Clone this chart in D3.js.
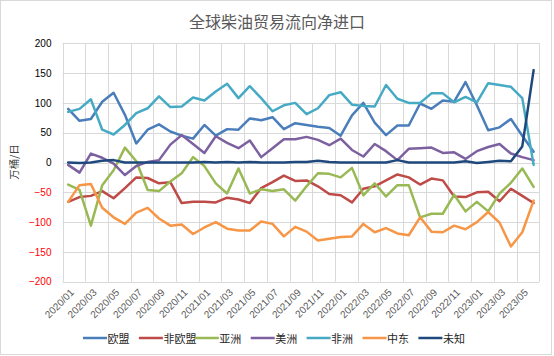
<!DOCTYPE html>
<html>
<head>
<meta charset="utf-8">
<script src="https://cdn.jsdelivr.net/npm/d3@7"></script>
<style>
  html, body { margin: 0; padding: 0; background: #ffffff; }
  svg { display: block; }
</style>
</head>
<body>
<svg id="chart" width="554" height="356"></svg>
<script>
const title = "全球柴油贸易流向净进口";
const yTitle = "万桶/日";
const categories = [
  "2020/01","2020/02","2020/03","2020/04","2020/05","2020/06","2020/07","2020/08","2020/09","2020/10","2020/11","2020/12",
  "2021/01","2021/02","2021/03","2021/04","2021/05","2021/06","2021/07","2021/08","2021/09","2021/10","2021/11","2021/12",
  "2022/01","2022/02","2022/03","2022/04","2022/05","2022/06","2022/07","2022/08","2022/09","2022/10","2022/11","2022/12",
  "2023/01","2023/02","2023/03","2023/04","2023/05","2023/06"
];
const yTicks = [200, 150, 100, 50, 0, -50, -100, -150, -200];

const seriesNames = ["欧盟", "非欧盟", "亚洲", "美洲", "非洲", "中东", "未知"];
const seriesColors = ["#4a7ebb", "#be4b48", "#98b954", "#7d60a0", "#46aac5", "#f79646", "#1f497d"];

const euValues = [90,70,73,102,117,80,32,55,64,52,45,40,63,45,56,55,74,71,76,56,66,63,60,58,45,79,100,67,46,62,62,99,90,104,102,135,96,54,59,73,45,18];
const nonEuValues = [-66,-58,-56,-48,-60,-43,-25,-26,-35,-33,-68,-66,-66,-67,-59,-62,-68,-43,-33,-22,-31,-30,-40,-53,-55,-67,-44,-40,-30,-20,-25,-37,-27,-30,-57,-58,-50,-49,-65,-44,-56,-68];
const asiaValues = [-37,-46,-106,-38,-13,25,2,-46,-48,-32,-18,9,-6,-35,-52,-10,-52,-45,-48,-45,-64,-40,-18,-19,-25,-9,-55,-35,-57,-38,-38,-92,-86,-86,-54,-82,-66,-82,-52,-34,-10,-41];
const americasValues = [-4,-17,15,8,-2,-21,-6,1,4,30,46,31,16,44,33,24,37,9,24,39,39,43,38,29,40,21,10,31,19,4,23,24,25,16,17,6,19,26,31,15,9,4];
const africaValues = [85,90,106,55,47,63,83,91,111,93,94,109,104,119,132,108,128,108,86,96,100,81,91,113,118,97,95,94,130,107,100,100,116,116,101,110,101,133,130,127,108,-4];
const middleEastValues = [-66,-38,-36,-76,-92,-103,-84,-76,-94,-106,-104,-120,-109,-100,-111,-114,-114,-99,-103,-124,-108,-116,-131,-128,-125,-124,-103,-117,-110,-119,-122,-92,-116,-117,-106,-112,-100,-83,-101,-141,-117,-64];
const unknownValues = [0,-1,0,3,4,0,0,0,0,0,0,0,1,0,1,0,1,0,0,0,1,1,3,1,0,0,0,0,0,4,0,0,0,0,0,2,-1,1,3,2,27,155];

const seriesValues = [euValues, nonEuValues, asiaValues, americasValues, africaValues, middleEastValues, unknownValues];

const W = 554, H = 356;
const plot = { left: 62.5, right: 539.3, top: 43.3, bottom: 281.7 };
const svg = d3.select("#chart");

// outer border
svg.append("rect")
  .attr("x", 0.5).attr("y", 0.5).attr("width", 551).attr("height", 354)
  .attr("fill", "#fff").attr("stroke", "#d9d9d9").attr("stroke-width", 1);

const x = d3.scaleBand().domain(categories).range([plot.left, plot.right]).paddingInner(0).paddingOuter(0);
const y = d3.scaleLinear().domain([-200, 200]).range([plot.bottom, plot.top]);
const cx = c => x(c) + x.bandwidth() / 2;

// horizontal gridlines
svg.append("g").selectAll("line").data(yTicks).join("line")
  .attr("x1", plot.left).attr("x2", plot.right)
  .attr("y1", d => Math.round(y(d)) + 0.5).attr("y2", d => Math.round(y(d)) + 0.5)
  .attr("stroke", "#d9d9d9").attr("stroke-width", 1);

// vertical gridlines every 2 categories
const vLines = categories.filter((c, i) => i % 2 === 0).map(c => x(c)).concat([plot.right]);
svg.append("g").selectAll("line").data(vLines).join("line")
  .attr("x1", d => Math.round(d) + 0.5).attr("x2", d => Math.round(d) + 0.5)
  .attr("y1", plot.top).attr("y2", plot.bottom)
  .attr("stroke", "#d9d9d9").attr("stroke-width", 1);

// y axis labels
const yAxis = d3.axisLeft(y).tickValues(yTicks).tickSize(0).tickPadding(0).tickFormat(d3.format("d"));
const yG = svg.append("g").attr("transform", `translate(${51.5},0)`).call(yAxis);
yG.select(".domain").remove();
yG.selectAll("text")
  .attr("font-family", "Liberation Sans, Arial, sans-serif")
  .attr("font-size", 10)
  .attr("fill", d => d < 0 ? "#ff0000" : "#000000");

// x axis labels
const xAxis = d3.axisBottom(x).tickValues(categories.filter((c, i) => i % 2 === 0)).tickSize(0).tickPadding(0);
const xG = svg.append("g").attr("transform", `translate(0,${plot.bottom})`).call(xAxis);
xG.select(".domain").remove();
xG.selectAll("text")
  .attr("font-family", "Liberation Sans, Arial, sans-serif")
  .attr("font-size", 10)
  .attr("fill", "#595959")
  .attr("text-anchor", "end")
  .attr("dy", "0.35em")
  .attr("transform", "translate(4,9) rotate(-45)");

// lines
const line = d3.line().x((d, i) => cx(categories[i])).y(d => y(d));
svg.append("g").selectAll("path").data(seriesValues).join("path")
  .attr("d", d => line(d))
  .attr("fill", "none")
  .attr("stroke", (d, i) => seriesColors[i])
  .attr("stroke-width", 2.5)
  .attr("stroke-linejoin", "round")
  .attr("stroke-linecap", "round");

// title
svg.append("text")
  .attr("x", 277).attr("y", 21)
  .attr("text-anchor", "middle").attr("dominant-baseline", "central")
  .attr("font-family", "Noto Sans CJK SC, sans-serif")
  .attr("font-size", 16).attr("fill", "#595959")
  .text(title);

// y title
svg.append("text")
  .attr("transform", "translate(13,162) rotate(-90)")
  .attr("text-anchor", "middle").attr("dominant-baseline", "central")
  .attr("font-family", "Noto Sans CJK SC, sans-serif")
  .attr("font-size", 10.5).attr("fill", "#404040")
  .text(yTitle);

// legend
const legend = svg.append("g").selectAll("g").data(seriesNames).join("g")
  .attr("transform", (d, i) => `translate(${83 + i * 55.9},338)`);
legend.append("line")
  .attr("x1", 0).attr("x2", 24).attr("y1", 0).attr("y2", 0)
  .attr("stroke", (d, i) => seriesColors[i]).attr("stroke-width", 2.5);
legend.append("text")
  .attr("x", 24.5).attr("y", 0).attr("dominant-baseline", "central")
  .attr("font-family", "Noto Sans CJK SC, sans-serif")
  .attr("font-size", 11).attr("fill", "#262626")
  .text(d => d);
</script>
</body>
</html>
